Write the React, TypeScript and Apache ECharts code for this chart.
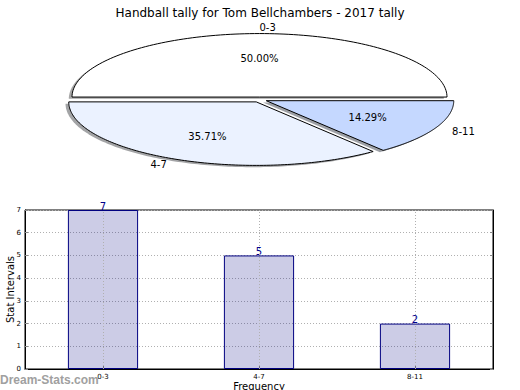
import React, { useEffect, useRef } from "react";
import * as echarts from "echarts";

const TITLE = "Handball tally for Tom Bellchambers - 2017 tally";
const categories = ["0-3", "4-7", "8-11"];
const counts = [7, 5, 2];
const sliceColors = ["#FFFFFF", "#EBF2FF", "#C5D8FF"];
const explode = [0.04, 0.04, 0.04];
const yTicksMax = 7;

const FONT = "DejaVu Sans";
const PIE_CX = 259.5;
const PIE_CY = 99.6;
const PIE_RX = 187.5;
const PIE_RY = 63.5;
const SHADOW_DX = -3.2;
const SHADOW_DY = 1.8;

function shadeOf(hex: string) {
  const r = parseInt(hex.slice(1, 3), 16);
  const g = parseInt(hex.slice(3, 5), 16);
  const b = parseInt(hex.slice(5, 7), 16);
  return `rgba(${Math.round(r * 0.3)},${Math.round(g * 0.3)},${Math.round(b * 0.3)},0.5)`;
}

function renderPie(params: any, api: any) {
  const i = params.dataIndex;
  const total = counts.reduce((a, b) => a + b, 0);
  let start = 0;
  for (let j = 0; j < i; j++) start += (counts[j] / total) * 360;
  const value = api.value(0);
  const end = start + (value / total) * 360;
  const midDeg = (start + end) / 2;
  const mid = (midDeg * Math.PI) / 180;
  const e = explode[i];
  const ox = PIE_CX + e * PIE_RX * Math.cos(mid);
  const oy = PIE_CY - e * PIE_RY * Math.sin(mid);
  const pts: number[][] = [[ox, oy]];
  const steps = 120;
  for (let k = 0; k <= steps; k++) {
    const a = ((start + ((end - start) * k) / steps) * Math.PI) / 180;
    pts.push([ox + PIE_RX * Math.cos(a), oy - PIE_RY * Math.sin(a)]);
  }
  const shadowPts = pts.map((p) => [p[0] + SHADOW_DX, p[1] + SHADOW_DY]);
  const lx = ox + 1.1 * PIE_RX * Math.cos(mid);
  const ly = oy - 1.1 * PIE_RY * Math.sin(mid);
  const px = ox + 0.6 * PIE_RX * Math.cos(mid);
  const py = oy - 0.6 * PIE_RY * Math.sin(mid);
  const pct = ((value / total) * 100).toFixed(2) + "%";
  return {
    type: "group",
    children: [
      {
        type: "polygon",
        shape: { points: shadowPts },
        style: { fill: shadeOf(sliceColors[i]), stroke: "none" },
      },
      {
        type: "polygon",
        shape: { points: pts },
        style: { fill: sliceColors[i], stroke: "#000", lineWidth: 1 },
      },
      {
        type: "text",
        x: lx,
        y: ly,
        style: {
          text: categories[i],
          fill: "#000",
          fontSize: 10,
          fontFamily: FONT,
          align: Math.cos(mid) > 0 ? "left" : "right",
          verticalAlign: "middle",
        },
      },
      {
        type: "text",
        x: px,
        y: py,
        style: {
          text: pct,
          fill: "#000",
          fontSize: 10,
          fontFamily: FONT,
          align: "center",
          verticalAlign: "middle",
        },
      },
    ],
  };
}

export default function App() {
  const ref = useRef<HTMLDivElement>(null);
  useEffect(() => {
    if (!ref.current) return;
    const chart = echarts.init(ref.current, null, { renderer: "svg" });
    chart.setOption({
      animation: false,
      backgroundColor: "#fff",
      textStyle: { fontFamily: FONT },
      title: {
        text: TITLE,
        left: "center",
        top: 2,
        textStyle: { fontSize: 12, fontWeight: "normal", color: "#000", fontFamily: FONT },
      },
      grid: {
        left: 25,
        top: 210,
        width: 468,
        height: 159,
        containLabel: false,
        outerBoundsMode: "none",
        show: true,
        borderColor: "#000",
        borderWidth: 1,
        backgroundColor: "transparent",
      },
      xAxis: {
        type: "category",
        data: categories,
        name: "Frequency",
        nameLocation: "middle",
        nameGap: 12,
        nameMoveOverlap: false,
        nameTextStyle: { fontSize: 10, color: "#000", fontFamily: FONT },
        axisLine: { show: true, lineStyle: { color: "#000" } },
        axisTick: { show: true, inside: true, alignWithLabel: true, length: 3, lineStyle: { color: "#888" } },
        axisLabel: { fontSize: 7, color: "#000", margin: 4, fontFamily: FONT },
        splitLine: { show: false },
      },
      yAxis: [
        {
          type: "value",
          min: 0,
          max: yTicksMax,
          interval: 1,
          name: "Stat Intervals",
          nameLocation: "middle",
          nameGap: 10,
          nameMoveOverlap: false,
          nameTextStyle: { fontSize: 10, color: "#000", fontFamily: FONT },
          axisLine: { show: true, lineStyle: { color: "#000" } },
          axisTick: { show: true, inside: true, length: 3, lineStyle: { color: "#888" } },
          axisLabel: { fontSize: 7, color: "#000", margin: 4, fontFamily: FONT },
          splitLine: { show: true, lineStyle: { color: "#b0b0b0", type: [1, 2], width: 1 } },
        },
        {
          type: "value",
          min: 0,
          max: yTicksMax,
          interval: 1,
          position: "right",
          axisLine: { show: true, lineStyle: { color: "#000" } },
          axisTick: { show: true, inside: true, length: 3, lineStyle: { color: "#888" } },
          axisLabel: { show: false },
          splitLine: { show: false },
        },
      ],
      series: [
        {
          type: "custom",
          coordinateSystem: "none",
          renderItem: renderPie,
          data: counts.map((c) => [c]),
          silent: true,
        },
        {
          type: "bar",
          data: counts,
          barWidth: "45%",
          itemStyle: { color: "rgba(0,0,128,0.2)", borderColor: "#000080", borderWidth: 1 },
          label: {
            show: true,
            position: "top",
            distance: -1,
            color: "#00008B",
            fontSize: 10,
            fontFamily: FONT,
          },
          markLine: {
            silent: true,
            symbol: "none",
            label: { show: false },
            lineStyle: { color: "#b0b0b0", type: [1, 2], width: 1 },
            data: categories.map((c) => ({ xAxis: c })),
          },
        },
      ],
      graphic: [
        {
          type: "text",
          left: 0,
          top: 374,
          style: {
            text: "Dream-Stats.com",
            fill: "#a0a0a0",
            fontSize: 12,
            fontWeight: "bold",
            fontFamily: "Liberation Sans",
          },
          z: 100,
        },
      ],
    });
    return () => chart.dispose();
  }, []);
  return (
    <div
      ref={ref}
      style={{ position: "fixed", left: 0, top: 0, width: 520, height: 390 }}
    />
  );
}
